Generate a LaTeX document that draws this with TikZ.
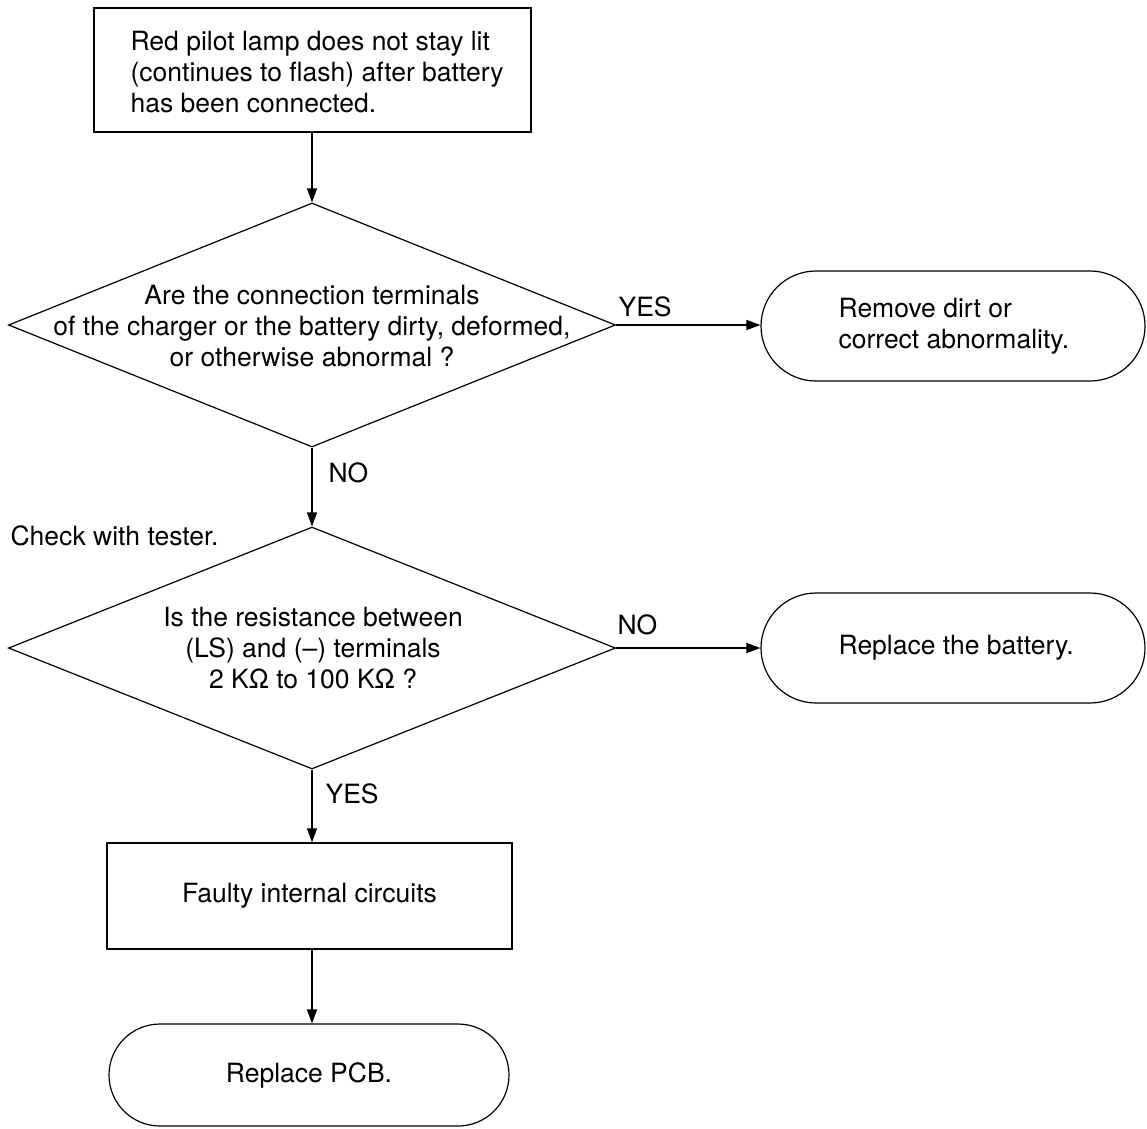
\documentclass[tikz,border=0pt]{standalone}
\usepackage{fontspec}
\setmainfont{TeX Gyre Heros}
\usetikzlibrary{shapes.geometric,shapes.misc,arrows.meta}
\begin{document}
\begin{tikzpicture}[x=1pt,y=-1pt,line width=1.2pt,
  every node/.style={font=\fontsize{26.5}{31}\selectfont, inner sep=0pt},
  box/.style={draw, rectangle, line width=1.4pt},
  dia/.style={draw, diamond},
  term/.style={draw, rounded rectangle},
  lbl/.style={anchor=base west},
  arr/.style={-{Triangle[length=14pt,width=10pt]}}]
\useasboundingbox (0,0) rectangle (1147,1128);

\node[box, minimum width=437pt, minimum height=124pt] (start) at (312.5,70) {};
\node[anchor=west, align=left] (starttext) at (130,72) {Red pilot lamp does not stay lit\\(continues to flash) after battery\\has been connected.};

\node[dia, minimum width=607pt, minimum height=244pt] (q1) at (312,325) {};
\node[align=center] (q1text) at (312,326) {Are the connection terminals\\of the charger or the battery dirty, deformed,\\or otherwise abnormal ?};

\node[term, minimum width=384pt, minimum height=110pt] (t1) at (953,326) {};
\node[anchor=west, align=left] (t1text) at (838,326) {Remove dirt or\\correct abnormality.};

\node[dia, minimum width=607pt, minimum height=242pt] (q2) at (312,648) {};
\node[align=center] (q2text) at (313,648) {Is the resistance between\\(LS) and (\textendash) terminals\\2 K\symbol{"03A9} to 100 K\symbol{"03A9} ?};

\node[term, minimum width=384pt, minimum height=110pt] (t2) at (953,648) {};
\node[anchor=west] (t2text) at (838,648) {Replace the battery.};

\node[box, minimum width=405pt, minimum height=106pt] (fault) at (309.5,896) {Faulty internal circuits};

\node[term, minimum width=400pt, minimum height=102pt] (t3) at (309,1075) {Replace PCB.};

\node[lbl] (check) at (10,545) {Check with tester.};
\node[lbl] (yes1) at (618,316) {YES};
\node[lbl] (no1) at (328,482) {NO};
\node[lbl] (no2) at (617,634) {NO};
\node[lbl] (yes2) at (325,803) {YES};

\draw[arr] (start.south -| q1.north) -- (q1.north);
\draw[arr] (q1.east) -- (q1.east -| t1.west);
\draw[arr] (q1.south) -- (q2.north);
\draw[arr] (q2.east) -- (q2.east -| t2.west);
\draw[arr] (q2.south) -- (q2.south |- fault.north);
\draw[arr] (q2.south |- fault.south) -- (q2.south |- t3.north);
\end{tikzpicture}
\end{document}
